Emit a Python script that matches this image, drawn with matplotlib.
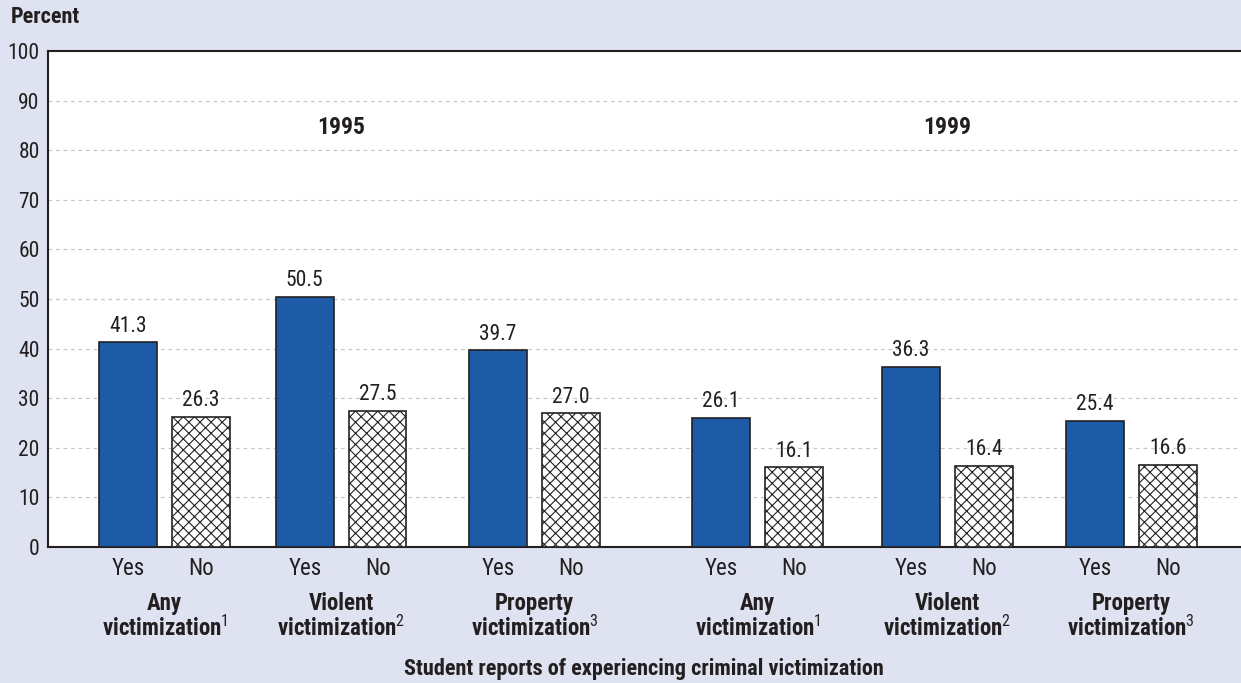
import matplotlib.pyplot as plt
import numpy as np

plt.rcParams['font.family'] = ['Roboto Condensed', 'DejaVu Sans']
plt.rcParams['mathtext.fontset'] = 'custom'
plt.rcParams['mathtext.rm'] = 'Roboto Condensed'
plt.rcParams['hatch.color'] = '#222222'
plt.rcParams['hatch.linewidth'] = 0.8

categories = ['Any\nvictimization$^{1}$', 'Violent\nvictimization$^{2}$', 'Property\nvictimization$^{3}$',
              'Any\nvictimization$^{1}$', 'Violent\nvictimization$^{2}$', 'Property\nvictimization$^{3}$']
years = ['1995', '1999']
yes_vals = [41.3, 50.5, 39.7, 26.1, 36.3, 25.4]
no_vals = [26.3, 27.5, 27.0, 16.1, 16.4, 16.6]

bg = '#dfe2f0'
blue = '#1d5ba6'
ink = '#231f20'

fig = plt.figure(figsize=(12.41, 6.83), dpi=100, facecolor=bg)
ax = fig.add_axes([0.0387, 0.1991, 0.9613, 0.7262])

x = np.array([0, 0.95, 1.99, 3.19, 4.21, 5.2])
w = 0.31
off = 0.196

b1 = ax.bar(x - off, yes_vals, w, color=blue, edgecolor='#222222', linewidth=1.2, zorder=3)
b2 = ax.bar(x + off, no_vals, w, color='white', edgecolor='#222222', linewidth=1.2, hatch='xxx', zorder=3)

for bars, vals in ((b1, yes_vals), (b2, no_vals)):
    for b, v in zip(bars, vals):
        ax.annotate(f'{v:.1f}', (b.get_x() + b.get_width() / 2, v), xytext=(0, 4),
                    textcoords='offset points', ha='center', va='bottom', fontsize=15.5, color=ink)

ax.set_xlim(-0.627, 5.79)
ax.set_ylim(0, 100)
ax.set_yticks(range(0, 101, 10))
ax.tick_params(axis='y', length=0, labelsize=15.5, pad=6, colors=ink)
ax.yaxis.grid(True, linestyle=(0, (3, 3)), color='#c8c8c8', linewidth=0.9, zorder=0)

ticks = np.concatenate([x - off, x + off])
ax.set_xticks(ticks)
ax.set_xticklabels(['Yes'] * 6 + ['No'] * 6)
ax.tick_params(axis='x', length=0, labelsize=16.5, pad=7, colors=ink)

for s in ['left', 'bottom', 'top']:
    ax.spines[s].set_color(ink)
    ax.spines[s].set_linewidth(1.5)
ax.spines['right'].set_visible(False)

for xi, lab in zip(x, categories):
    ax.text(xi, -9.0, lab, transform=ax.transData, ha='center', va='top',
            fontsize=16.5, fontweight='bold', color=ink, linespacing=1.05)

ax.text(0.95, 84.5, years[0], ha='center', va='center', fontsize=17, fontweight='bold', color=ink)
ax.text(4.21, 84.5, years[1], ha='center', va='center', fontsize=17, fontweight='bold', color=ink)

fig.text(0.519, 0.021, 'Student reports of experiencing criminal victimization', ha='center', va='center',
         fontsize=16, fontweight='bold', color=ink)
fig.text(0.009, 0.975, 'Percent', ha='left', va='center', fontsize=16, fontweight='bold', color=ink)

fig.savefig('out.png', dpi=100, facecolor=bg)
